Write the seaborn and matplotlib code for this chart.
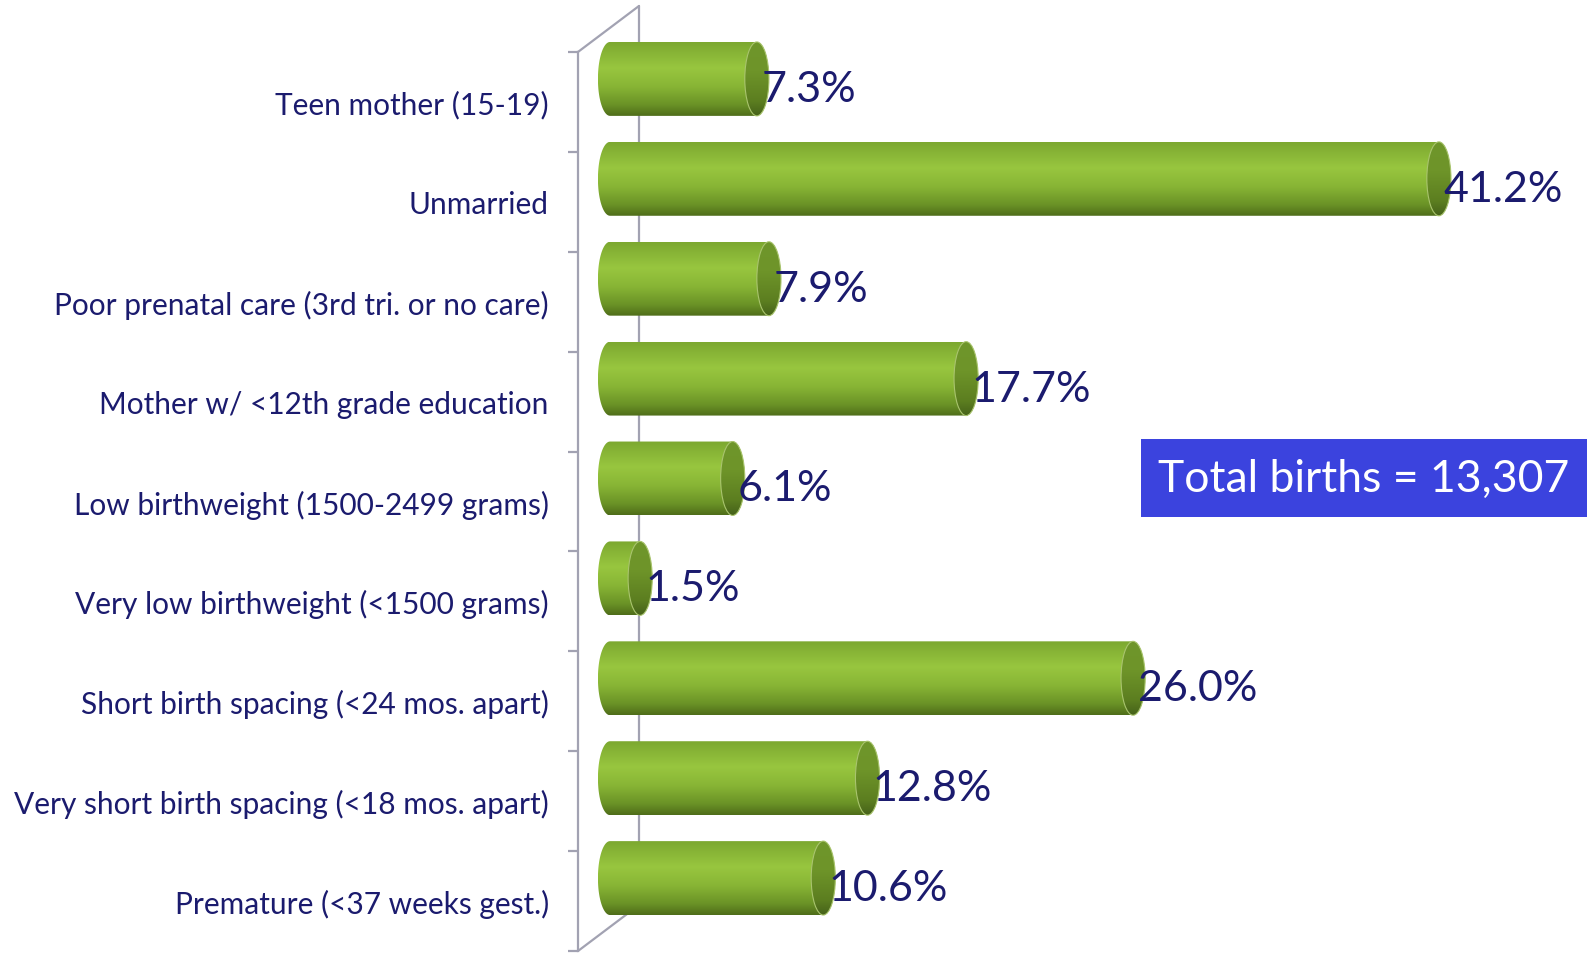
import numpy as np
import matplotlib
matplotlib.use("Agg")
import matplotlib.pyplot as plt
import seaborn as sns
from matplotlib.patches import Ellipse, PathPatch, Rectangle
from matplotlib.path import Path
from matplotlib.colors import LinearSegmentedColormap

categories = [
    "Teen mother (15-19)",
    "Unmarried",
    "Poor prenatal care (3rd tri. or no care)",
    "Mother w/ <12th grade education",
    "Low birthweight (1500-2499 grams)",
    "Very low birthweight (<1500 grams)",
    "Short birth spacing (<24 mos. apart)",
    "Very short birth spacing (<18 mos. apart)",
    "Premature (<37 weeks gest.)",
]
values = [7.3, 41.2, 7.9, 17.7, 6.1, 1.5, 26.0, 12.8, 10.6]
value_labels = [f"{v:.1f}%" for v in values]
total_label = "Total births = 13,307"

sns.set_style("white")
plt.rcParams["font.family"] = ["Lato", "DejaVu Sans"]

NAVY = "#1b1b6e"
WALL = "#a2a2b2"

W, H = 1587, 954
fig = plt.figure(figsize=(W / 100, H / 100), dpi=100)
# axes spans y from 8.5 (bottom) to -1.0 (top) so the raised 3d bars fit inside
ax = fig.add_axes([578 / W, 2 / H, 1009 / W, 949 / H])

sns.barplot(x=values, y=categories, orient="h", color="#8ab833", width=0.74, ax=ax)

body_cmap = LinearSegmentedColormap.from_list(
    "body", [(0, "#7ca830"), (0.35, "#98c63f"), (0.6, "#88b535"), (0.85, "#6a9226"), (1, "#4f6d1a")])
cap_cmap = LinearSegmentedColormap.from_list(
    "cap", [(0, "#6f962b"), (0.4, "#6e9429"), (0.8, "#5c7e20"), (1, "#46621a")])
grad = np.linspace(0, 1, 256).reshape(-1, 1)

rx = 0.6    # half width of the cylinder ends, in data units
dy = -0.23  # 3d depth shift of the bars

t_left = np.linspace(np.pi / 2, 3 * np.pi / 2, 40)
t_right = np.linspace(-np.pi / 2, np.pi / 2, 40)

for bar, lab in zip(list(ax.patches), value_labels):
    x0 = bar.get_x()
    x1 = x0 + bar.get_width()
    h = bar.get_height()
    yc = bar.get_y() + h / 2 + dy
    bar.set_visible(False)

    left = np.column_stack([x0 + rx * np.cos(t_left), yc - h / 2 * np.sin(t_left)])
    right = np.column_stack([x1 + rx * np.cos(t_right), yc - h / 2 * np.sin(t_right)])
    verts = np.vstack([left, right, left[:1]])
    body = PathPatch(Path(verts, closed=True), facecolor="none", edgecolor="none")
    ax.add_patch(body)
    im = ax.imshow(grad, cmap=body_cmap, extent=(x0 - rx, x1 + rx, yc + h / 2, yc - h / 2),
                   aspect="auto", origin="upper", zorder=2, interpolation="bilinear")
    im.set_clip_path(body)

    cap = Ellipse((x1, yc), 2 * rx, h, facecolor="none", edgecolor="#a9c46e", lw=0.8, zorder=4)
    ax.add_patch(cap)
    im2 = ax.imshow(grad, cmap=cap_cmap, extent=(x1 - rx, x1 + rx, yc + h / 2, yc - h / 2),
                    aspect="auto", origin="upper", zorder=3, interpolation="bilinear")
    im2.set_clip_path(cap)

    ax.text(x1 + 0.25, yc + 0.1, lab, ha="left", va="center", fontsize=31, color=NAVY, zorder=5)

xmin, xmax = -1.59, 48.56
ax.set_xlim(xmin, xmax)
ax.set_ylim(8.5, -1.0)

# back wall of the 3d frame
wx, wy = 1.44, 0.46
kw = dict(color=WALL, lw=1.6, zorder=1, clip_on=False)
ax.plot([wx, wx], [8.5 - wy, -0.5 - wy], **kw)
ax.plot([xmin, wx], [-0.5, -0.5 - wy], **kw)
ax.plot([xmin, wx], [8.5, 8.5 - wy], **kw)

for s in ["top", "right", "bottom"]:
    ax.spines[s].set_visible(False)
ax.spines["left"].set_color(WALL)
ax.spines["left"].set_linewidth(1.6)
ax.spines["left"].set_bounds(-0.5, 8.5)

ax.set_xticks([])
ax.set_xlabel("")
ax.set_ylabel("")
ax.set_yticks(np.arange(-0.5, 9, 1), minor=True)
ax.tick_params(axis="y", which="major", left=False, length=0, pad=21, labelsize=21.5, labelcolor=NAVY)
ax.tick_params(axis="y", which="minor", left=True, length=7, width=1.6, color=WALL, direction="out")

fig.patches.append(Rectangle((1141 / W, (H - 518) / H), (W - 1141) / W, 78 / H,
                             transform=fig.transFigure, facecolor="#3b43de", edgecolor="none"))
fig.text(1363.5 / W, (H - 479) / H, total_label, ha="center", va="center",
         fontsize=32, color="white")

fig.savefig("out.png", dpi=100)
